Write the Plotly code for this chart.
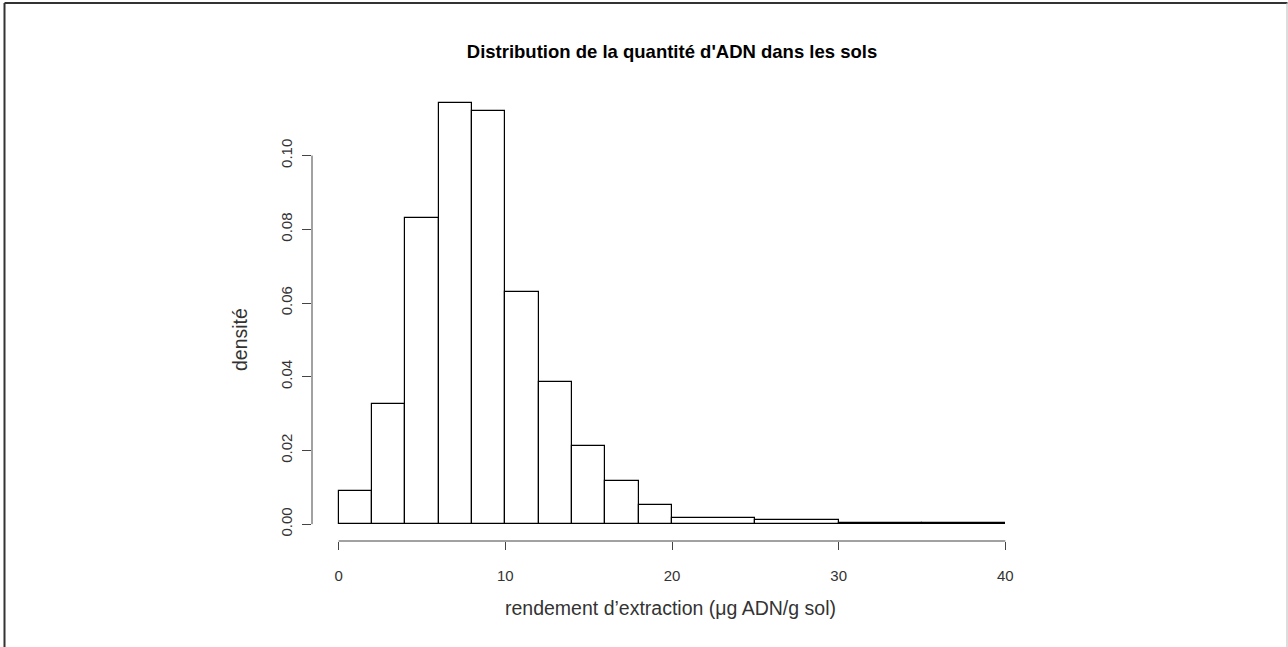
import plotly.graph_objects as go

# bin edges (µg ADN/g sol) and densities
bin_edges = [0, 2, 4, 6, 8, 10, 12, 14, 16, 18, 20, 25, 30, 35, 40]
densities = [0.0091, 0.0327, 0.0831, 0.1143, 0.1122, 0.0630, 0.0385, 0.0213,
             0.0117, 0.0051, 0.0016, 0.00125, 0.0004, 0.0002]
x_ticks = [0, 10, 20, 30, 40]
y_ticks = [0.00, 0.02, 0.04, 0.06, 0.08, 0.10]
y_tick_labels = ["0.00", "0.02", "0.04", "0.06", "0.08", "0.10"]

title = "Distribution de la quantité d'ADN dans les sols"
x_title = "rendement d’extraction (μg ADN/g sol)"
y_title = "densité"

mids = [(a + b) / 2 for a, b in zip(bin_edges[:-1], bin_edges[1:])]
widths = [b - a for a, b in zip(bin_edges[:-1], bin_edges[1:])]

FONT = "Liberation Sans, Arial, sans-serif"

fig = go.Figure(go.Bar(
    x=mids, y=densities, width=widths,
    marker=dict(color="white", line=dict(color="black", width=1.2)),
    hoverinfo="x+y",
))

xspan = bin_edges[-1] - bin_edges[0]
ymax = max(densities)
xr = [bin_edges[0] - 0.04 * xspan, bin_edges[-1] + 0.04 * xspan]
yr = [-0.04 * ymax, 1.04 * ymax]

W, H = 1288, 647
L, R, T, B = 312, 256, 86, 106
pw, ph = W - L - R, H - T - B

def px_x(p):
    return (p - L) / pw

def px_y(p):
    return (H - B - p) / ph

fig.update_layout(
    width=W, height=H,
    margin=dict(l=L, r=R, t=T, b=B, pad=0),
    paper_bgcolor="white", plot_bgcolor="white",
    showlegend=False,
    font=dict(family=FONT, color="#222"),
    title=dict(text="<b>" + title + "</b>", x=0.5, xref="paper", xanchor="center",
               y=1 - 52 / H, yanchor="middle",
               font=dict(size=18.5, color="black", family=FONT)),
    xaxis=dict(range=xr, showgrid=False, zeroline=False, showline=False,
               tickmode="array", tickvals=x_ticks, ticktext=[str(v) for v in x_ticks],
               ticks="outside", ticklen=8, tickwidth=1, tickcolor="#444",
               ticklabelstandoff=13,
               tickfont=dict(size=15, color="#333", family=FONT)),
    yaxis=dict(range=yr, showgrid=False, zeroline=False, showline=False,
               tickmode="array", tickvals=y_ticks, ticktext=y_tick_labels,
               tickangle=-90,
               ticks="outside", ticklen=9, tickwidth=1, tickcolor="#444",
               ticklabelstandoff=4,
               tickfont=dict(size=15, color="#333", family=FONT)),
    bargap=0,
)

# axis titles
fig.add_annotation(text=x_title, xref="paper", yref="paper",
                   x=px_x(670), y=px_y(608), xanchor="center", yanchor="middle",
                   showarrow=False, font=dict(size=19.5, color="#333", family=FONT))
fig.add_annotation(text=y_title, xref="paper", yref="paper", textangle=-90,
                   x=px_x(240), y=px_y(340), xanchor="center", yanchor="middle",
                   showarrow=False, font=dict(size=19.5, color="#333", family=FONT))

# R-style axis lines spanning tick range only
fig.add_shape(type="line", xref="x", yref="paper",
              x0=x_ticks[0], x1=x_ticks[-1], y0=0, y1=0,
              line=dict(color="#444", width=1))
fig.add_shape(type="line", xref="paper", yref="y",
              x0=0, x1=0, y0=y_ticks[0], y1=y_ticks[-1],
              line=dict(color="#444", width=1))

# outer frame of the image
fig.add_shape(type="line", xref="paper", yref="paper",
              x0=px_x(4.5), x1=px_x(4.5), y0=px_y(3), y1=px_y(700),
              line=dict(color="#333", width=2))
fig.add_shape(type="line", xref="paper", yref="paper",
              x0=px_x(4.5), x1=px_x(1287.5), y0=px_y(3), y1=px_y(3),
              line=dict(color="#333", width=2))
fig.add_shape(type="line", xref="paper", yref="paper",
              x0=px_x(1287), x1=px_x(1287), y0=px_y(3), y1=px_y(700),
              line=dict(color="#bbb", width=1))

fig.write_html("out.html", config={"displayModeBar": False},
               post_script="document.body.style.margin='0';document.body.style.overflow='hidden';")
